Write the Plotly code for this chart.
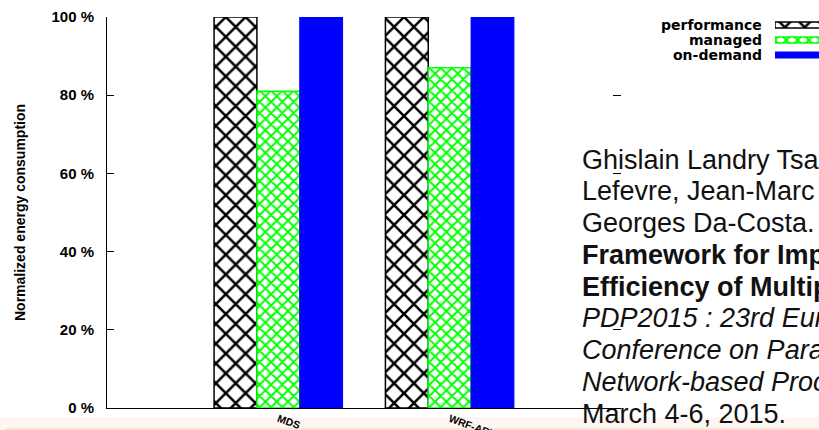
import plotly.graph_objects as go

# ---- data -------------------------------------------------------------
workloads = ["MDS", "WRF-ARW"]
governors = ["performance", "managed", "on-demand"]
performance_pct = [100, 100]
managed_pct = [81, 87]
ondemand_pct = [100, 100]
y_tick_vals = [0, 20, 40, 60, 80, 100]
y_tick_text = ["0 %", "20 %", "40 %", "60 %", "80 %", "100 %"]

citation_lines = [
    "Ghislain Landry Tsafack Chetsa, Laurent",
    "Lefevre, Jean-Marc Pierson, Patricia Stolf,",
    "Georges Da-Costa. \u201cApplication-Agnostic",
    "<b>Framework for Improving the Energy</b>",
    "<b>Efficiency of Multiple HPC Subsystems\u201d.</b>",
    "<i>PDP2015 : 23rd Euromicro International</i>",
    "<i>Conference on Parallel, Distributed and</i>",
    "<i>Network-based Processing</i>, Turku, Finland,",
    "March 4-6, 2015.",
]

# ---- geometry helpers (figure is 819 x 430 px) -------------------------
W, H = 819, 430
L, T, B = 107, 17, 22          # margins; right margin 0 so the legend fits
PW = W - L                     # width of the paper area
PH = H - T - B                 # height of the paper area
AXIS_RIGHT = 621               # right end of the main x axis


def px_x(px):
    return (px - L) / PW


def px_y(py):
    return (H - B - py) / PH


FONT = "Liberation Sans, Arial, Helvetica, sans-serif"

styles = {
    "performance": dict(
        color="white",
        line=dict(color="black", width=1.5),
        pattern=dict(shape="x", fgcolor="black", bgcolor="white", size=14, solidity=0.33),
    ),
    "managed": dict(
        color="white",
        line=dict(color="#00ff00", width=1.5),
        pattern=dict(shape="x", fgcolor="#00ff00", bgcolor="white", size=8, solidity=0.42),
    ),
    "on-demand": dict(
        color="#0000ff",
        line=dict(color="#0000ee", width=1),
    ),
}
values = {"performance": performance_pct, "managed": managed_pct, "on-demand": ondemand_pct}

fig = go.Figure()

# main grouped bars
for g in governors:
    fig.add_trace(go.Bar(
        x=workloads, y=values[g], name=g, marker=styles[g],
        xaxis="x", yaxis="y", showlegend=False,
    ))

# legend swatches drawn as horizontal bars in a small corner axis
for g in governors:
    fig.add_trace(go.Bar(
        x=[1], y=[g], orientation="h", marker=styles[g], width=0.4,
        xaxis="x2", yaxis="y2", showlegend=False, hoverinfo="skip",
    ))

# invisible trace so the mirrored right-hand ticks are drawn
fig.add_trace(go.Scatter(x=[workloads[0]], y=[0], mode="markers",
                         marker=dict(opacity=0), xaxis="x", yaxis="y3",
                         showlegend=False, hoverinfo="skip"))

fig.update_layout(
    template="none",
    width=W, height=H,
    margin=dict(l=L, r=0, t=T, b=B, pad=0),
    paper_bgcolor="white", plot_bgcolor="rgba(0,0,0,0)",
    barmode="group", bargap=0.25, bargroupgap=0,
    font=dict(family=FONT, color="black"),
    xaxis=dict(
        domain=[0, px_x(AXIS_RIGHT)], range=[-1, 2], type="category",
        automargin=False,
        showline=True, linecolor="black", linewidth=1, ticks="",
        showgrid=False, zeroline=False, tickangle=20,
        tickfont=dict(size=10.5, weight="bold", family=FONT),
    ),
    yaxis=dict(
        range=[0, 100], tickvals=y_tick_vals, ticktext=y_tick_text,
        automargin=False,
        showline=True, linecolor="black", linewidth=1,
        ticks="inside", ticklen=7, tickcolor="black", tickwidth=1,
        showgrid=False, zeroline=False, ticklabelstandoff=9,
        tickfont=dict(size=15, weight="bold", family=FONT),
    ),
    yaxis3=dict(
        overlaying="y", anchor="x", side="right", range=[0, 100],
        automargin=False,
        tickvals=y_tick_vals, showticklabels=False, showline=False,
        ticks="inside", ticklen=8, tickcolor="black", tickwidth=1,
        showgrid=False, zeroline=False,
    ),
    xaxis2=dict(domain=[px_x(775), 1], anchor="y2", range=[0, 0.5],
                visible=False, automargin=False),
    yaxis2=dict(
        domain=[px_y(62.5), px_y(17.5)], anchor="x2", type="category",
        categoryorder="array", categoryarray=governors, range=[2.5, -0.5],
        visible=False, automargin=False,
    ),
)

annotations = [
    dict(text="Normalized energy consumption", textangle=-90,
         x=px_x(20), y=px_y(213), xref="paper", yref="paper",
         xanchor="center", yanchor="middle", showarrow=False,
         font=dict(size=14, weight="bold", family=FONT)),
]
for g, row_y in zip(governors, [25, 40, 55]):
    annotations.append(dict(
        text=g, x=px_x(764), y=px_y(row_y), xref="paper", yref="paper",
        xanchor="right", yanchor="middle", showarrow=False,
        font=dict(size=14, weight="bold", family="DejaVu Sans, sans-serif")))

CITE_SIZE = 27
for i, line in enumerate(citation_lines):
    baseline = 169 + 31.75 * i
    annotations.append(dict(
        text=line, x=px_x(580), y=px_y(baseline - 0.3465 * CITE_SIZE),
        xref="paper", yref="paper", xanchor="left", yanchor="middle",
        showarrow=False, align="left",
        font=dict(size=CITE_SIZE, family=FONT, color="#111111")))
fig.update_layout(annotations=annotations)

# faint tinted strip along the bottom edge
fig.add_shape(type="rect", xref="paper", yref="paper", layer="below",
              x0=px_x(0), x1=1, y0=px_y(430), y1=px_y(417),
              fillcolor="#fdf6f3", line=dict(width=0))
fig.add_shape(type="rect", xref="paper", yref="paper", layer="below",
              x0=px_x(5), x1=1, y0=px_y(430), y1=px_y(428),
              fillcolor="#fbe2d6", line=dict(width=0))

fig.write_html("out.html")
